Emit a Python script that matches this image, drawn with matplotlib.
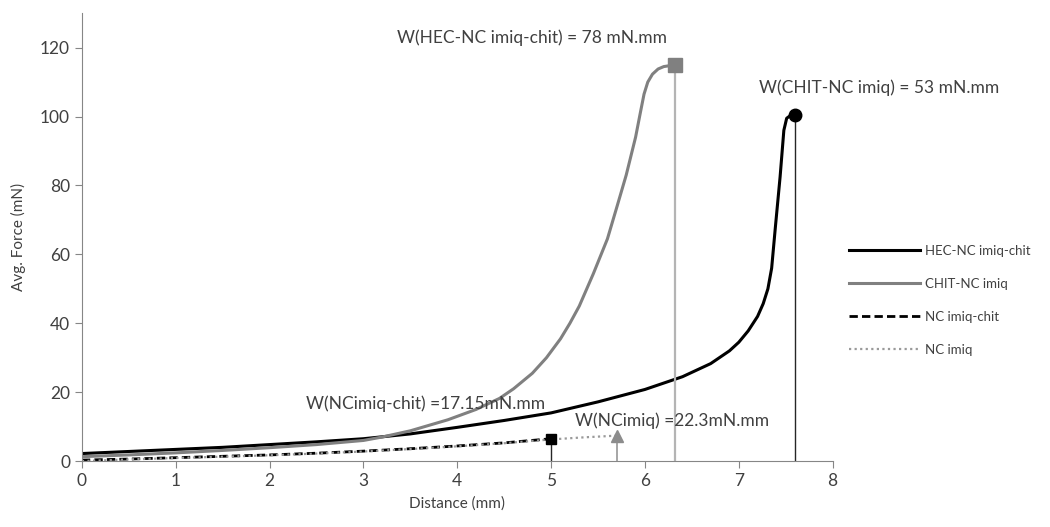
import matplotlib.pyplot as plt

plt.rcParams['font.family'] = ['Lato', 'DejaVu Sans']

# HEC-NC imiq-chit (black solid)
hec_x = [0, 0.5, 1, 1.5, 2, 2.5, 3, 3.5, 4, 4.5, 5, 5.5, 6, 6.4, 6.7, 6.9, 7.0, 7.1,
         7.2, 7.26, 7.31, 7.35, 7.39, 7.44, 7.48, 7.51, 7.55, 7.6]
hec_y = [2.2, 2.8, 3.4, 4.0, 4.8, 5.6, 6.5, 7.9, 9.8, 11.8, 14.0, 17.2, 20.8, 24.5, 28.3,
         32.0, 34.5, 37.8, 42.0, 45.7, 50.0, 56.0, 68.0, 82.5, 96.0, 99.5, 100.3, 100.5]

# CHIT-NC imiq (grey solid)
chit_x = [0, 0.5, 1, 1.5, 2, 2.5, 3, 3.2, 3.5, 3.9, 4.2, 4.45, 4.6, 4.8, 4.95, 5.1, 5.2,
          5.3, 5.45, 5.6, 5.7, 5.8, 5.9, 5.95, 5.99, 6.03, 6.08, 6.14, 6.2, 6.32]
chit_y = [1.3, 1.8, 2.4, 3.1, 3.9, 4.8, 6.0, 7.0, 8.8, 12.0, 15.0, 18.2, 21.0, 25.5, 30.0,
          35.5, 40.0, 45.0, 54.4, 64.5, 73.7, 83.0, 94.0, 101.0, 106.5, 110.0, 112.3, 113.8,
          114.5, 115.0]

# NC imiq-chit (black dashed)
ncc_x = [0, 0.5, 1, 1.5, 2, 2.5, 3, 3.5, 4, 4.5, 5]
ncc_y = [0.3, 0.6, 1.0, 1.4, 1.8, 2.3, 2.9, 3.6, 4.4, 5.3, 6.5]

# NC imiq (grey dotted)
nc_x = [0, 0.5, 1, 1.5, 2, 2.5, 3, 3.5, 4, 4.5, 5, 5.35, 5.7]
nc_y = [0.0, 0.5, 0.9, 1.3, 1.7, 2.2, 2.8, 3.5, 4.3, 5.2, 6.3, 6.9, 7.4]

labels = ['HEC-NC imiq-chit', 'CHIT-NC imiq', 'NC imiq-chit', 'NC imiq']
work_text = ['W(CHIT-NC imiq) = 53 mN.mm', 'W(HEC-NC imiq-chit) = 78 mN.mm',
             'W(NCimiq-chit) =17.15mN.mm', 'W(NCimiq) =22.3mN.mm']

txt = '#404040'
fig = plt.figure(figsize=(10.5, 5.27), dpi=100)
ax = fig.add_axes([0.078, 0.125, 0.715, 0.85])

ax.plot(hec_x, hec_y, color='black', lw=2.2, label=labels[0])
ax.plot(chit_x, chit_y, color='#808080', lw=2.2, label=labels[1])
ax.plot(ncc_x, ncc_y, color='black', lw=2, ls=(0, (3, 1.5)), label=labels[2])
ax.plot(nc_x, nc_y, color='#9a9a9a', lw=1.6, ls=(0, (1, 1.5)), label=labels[3])

# drop lines and end markers
ax.vlines(hec_x[-1], 0, hec_y[-1], color='#262626', lw=1)
ax.vlines(chit_x[-1], 0, chit_y[-1], color='#b4b4b4', lw=1.6)
ax.vlines(ncc_x[-1], 0, ncc_y[-1], color='#262626', lw=1)
ax.vlines(nc_x[-1], 0, nc_y[-1], color='#a6a6a6', lw=1.4)
ax.plot(hec_x[-1], hec_y[-1], 'o', color='black', ms=9, zorder=5)
ax.plot(chit_x[-1], chit_y[-1], 's', color='#808080', ms=10, zorder=5)
ax.plot(ncc_x[-1], ncc_y[-1], 's', color='black', ms=7, zorder=5)
ax.plot(nc_x[-1], nc_y[-1], '^', color='#8c8c8c', ms=8, zorder=5)

fs = 12.5
ax.text(7.21, 108.4, work_text[0], fontsize=fs, color=txt, va='center', clip_on=False)
ax.text(4.8, 122.9, work_text[1], fontsize=fs, color=txt, va='center', ha='center')
ax.text(2.39, 16.8, work_text[2], fontsize=fs, color=txt, va='center')
ax.text(5.25, 11.6, work_text[3], fontsize=fs, color=txt, va='center')

ax.set_xlim(0, 8)
ax.set_ylim(0, 130)
ax.set_xticks(range(0, 9))
ax.set_yticks(range(0, 121, 20))
for s in ['top', 'right']:
    ax.spines[s].set_visible(False)
for s in ['left', 'bottom']:
    ax.spines[s].set_color('#868686')
ax.tick_params(direction='out', length=5, color='#868686', labelsize=12.5, labelcolor=txt)
ax.set_xlabel('Distance (mm)', fontsize=11, color=txt, labelpad=5)
ax.set_ylabel('Avg. Force (mN)', fontsize=11, color=txt, labelpad=10)

ax.legend(loc='center left', bbox_to_anchor=(0.797, 0.43), bbox_transform=fig.transFigure,
          frameon=False, fontsize=9.5, handlelength=5.4, labelspacing=1.6,
          handletextpad=0.4, labelcolor=txt)

fig.savefig('out.png', dpi=100)
